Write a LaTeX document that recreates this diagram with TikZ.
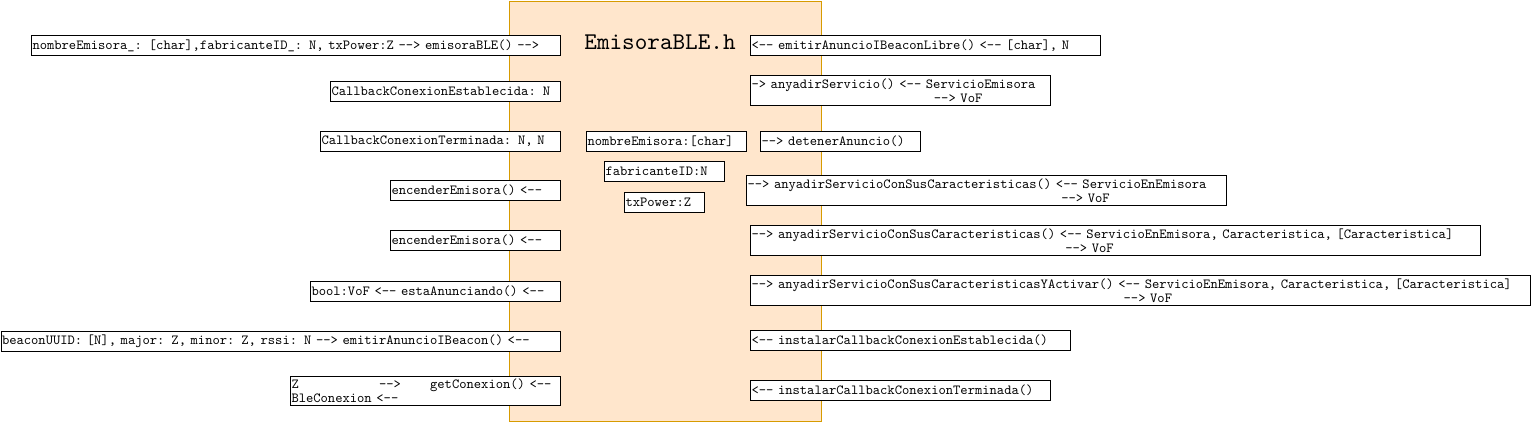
\documentclass[tikz,border=0pt]{standalone}
\usepackage{fontspec}
\newfontfamily\mono{lmmono10-regular.otf}
\usepackage{xcolor}
\usetikzlibrary{positioning}
\definecolor{cuerpoFill}{HTML}{FFE6CC}
\definecolor{cuerpoDraw}{HTML}{D79B00}
\newcommand{\cols}[1]{\hspace*{\dimexpr 0.525em*#1\relax}}
\newcommand{\izq}{<-\kern0pt-}
\newcommand{\der}{-\kern0pt->}
\newcommand{\monoespacio}{\spaceskip=0.525em\relax\xspaceskip=0.525em\relax}
\tikzset{
  caja/.style={rectangle, draw=black, line width=1pt, fill=white, anchor=north west,
               inner xsep=1pt, inner ysep=0pt, align=left, minimum height=20pt,
               font=\mono\fontsize{13.9}{14.4}\selectfont\monoespacio},
  doble/.style={minimum height=30pt},
  cuerpo/.style={rectangle, draw=cuerpoDraw, fill=cuerpoFill, line width=1pt, anchor=north west,
                 minimum width=312pt, minimum height=420pt, inner sep=0pt},
  titulo/.style={font=\mono\fontsize{24}{28}\selectfont, inner sep=0pt, anchor=base},
}
\begin{document}
\begin{tikzpicture}[x=1pt, y=-1pt]
  \useasboundingbox (0,0) rectangle (1531,421);

  % Cuerpo de la clase
  \node[cuerpo] (emisora) at (508.5,0.5) {};
  \node[titulo] (titulo) at (660,49) {EmisoraBLE.h};

  % Columna izquierda
  \node[caja, text width=527pt] (constructor) at (31,35)
    {nombreEmisora\_: [char],fabricanteID\_: N, txPower:Z \der{} emisoraBLE() \der};
  \node[caja, text width=228pt] (cbEstablecida) at (330,81) {CallbackConexionEstablecida: N};
  \node[caja, text width=238pt] (cbTerminada) at (320,131) {CallbackConexionTerminada: N, N};
  \node[caja, text width=168pt] (encender1) at (390,180) {encenderEmisora() \izq};
  \node[caja, text width=168pt] (encender2) at (390,230) {encenderEmisora() \izq};
  \node[caja, text width=248pt] (anunciando) at (310,280.5) {bool:VoF \izq{} estaAnunciando() \izq};
  \node[caja, text width=557.5pt] (ibeacon) at (0.5,331)
    {beaconUUID: [N], major: Z, minor: Z, rssi: N \der{} emitirAnuncioIBeacon() \izq};
  \node[caja, text width=268pt, minimum height=29pt] (conexion) at (290,376)
    {Z\cols{11}\der\cols{4}getConexion() \izq\\BleConexion \izq};

  % Atributos
  \node[caja, text width=158pt] (nombre) at (586,131) {nombreEmisora:[char]};
  \node[caja, text width=118pt, below=9pt of nombre, xshift=-2pt] (fabricante) {fabricanteID:N};
  \node[caja, text width=78pt, below=10pt of fabricante] (potencia) {txPower:Z};

  % Columna derecha
  \node[caja, text width=348pt] (libre) at (750,35) {\izq{} emitirAnuncioIBeaconLibre() \izq{} [char], N};
  \node[caja, doble, text width=298pt] (servicio) at (750,75)
    {-> anyadirServicio() \izq{} ServicioEmisora\\\cols{25}\der{} VoF};
  \node[caja, text width=158pt] (detener) at (760,131) {\der{} detenerAnuncio()};
  \node[caja, doble, text width=478pt] (caract1) at (746,175)
    {\der{} anyadirServicioConSusCaracteristicas() \izq{} ServicioEnEmisora\\\cols{43}\der{} VoF};
  \node[caja, doble, text width=728pt] (caract2) at (750,225)
    {\der{} anyadirServicioConSusCaracteristicas() \izq{} ServicioEnEmisora, Caracteristica, [Caracteristica]\\\cols{43}\der{} VoF};
  \node[caja, doble, text width=778pt] (activar) at (750,275)
    {\der{} anyadirServicioConSusCaracteristicasYActivar() \izq{} ServicioEnEmisora, Caracteristica, [Caracteristica]\\\cols{51}\der{} VoF};
  \node[caja, text width=318pt] (instEstablecida) at (750,330) {\izq{} instalarCallbackConexionEstablecida()};
  \node[caja, text width=298pt] (instTerminada) at (750,380) {\izq{} instalarCallbackConexionTerminada()};

\end{tikzpicture}
\end{document}
